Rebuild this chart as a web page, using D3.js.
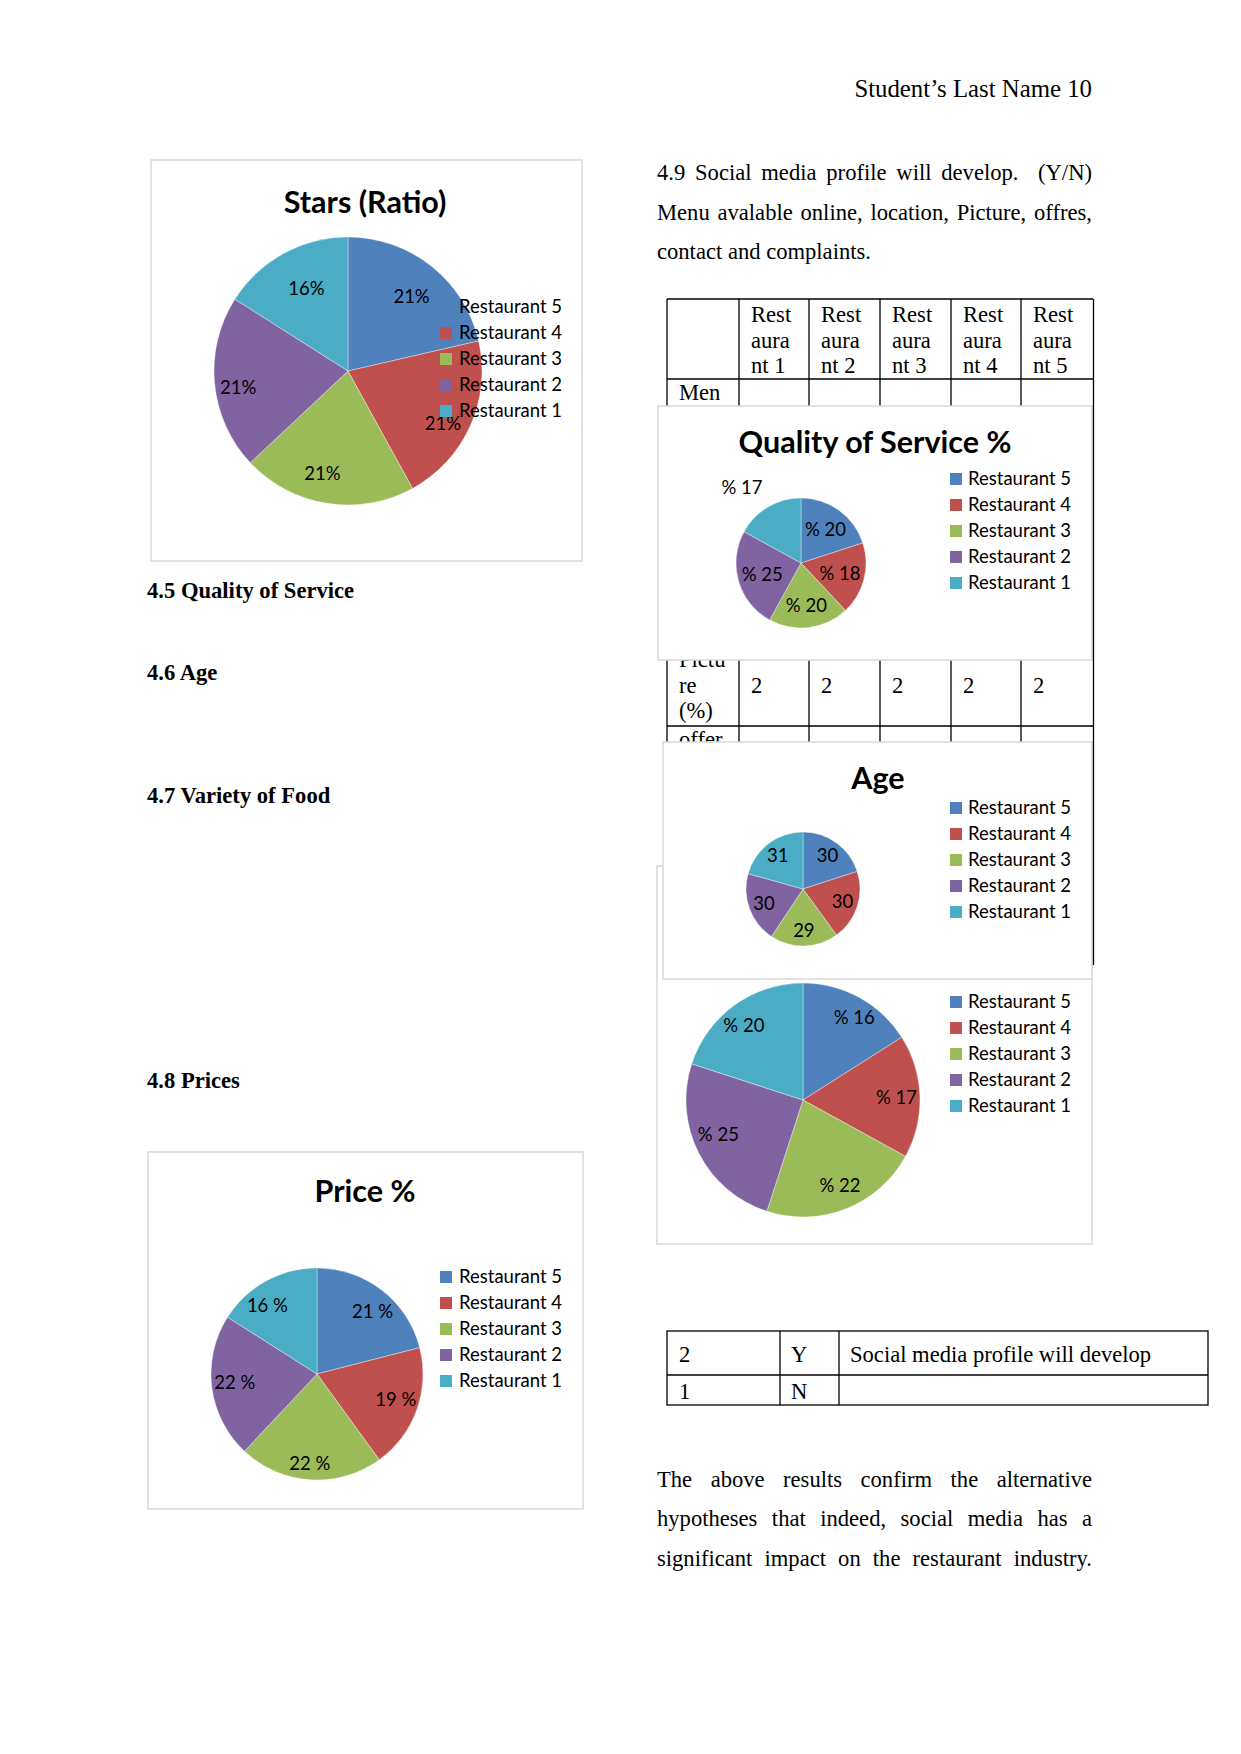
<!DOCTYPE html>
<html>
<head>
<meta charset="utf-8">
<script src="https://cdn.jsdelivr.net/npm/d3@7"></script>
<style>
  html, body { margin: 0; padding: 0; background: #fff; }
  svg text { fill: #000; }
</style>
</head>
<body>
<div id="page"></div>
<script>
// ---- data ----
const restaurants = ['Restaurant 5', 'Restaurant 4', 'Restaurant 3', 'Restaurant 2', 'Restaurant 1'];
const starsPct   = [21.4, 20.6, 21, 21, 16];   // slice angles as drawn, labels round to 21/21/21/21/16
const qualityPct = [20, 18, 20, 25, 17];
const agePct     = [30, 30, 29, 30, 31];
const varietyPct = [16, 17, 22, 25, 20];
const pricePct   = [21, 19, 22, 22, 16];
const sliceColors = ['#4F81BD', '#C0504D', '#9BBB59', '#8064A2', '#4BACC6'];

const tableHeaders = [['Rest', 'aura', 'nt 1'], ['Rest', 'aura', 'nt 2'], ['Rest', 'aura', 'nt 3'], ['Rest', 'aura', 'nt 4'], ['Rest', 'aura', 'nt 5']];
const pictureRow = [2, 2, 2, 2, 2];
const codeRows = [['2', 'Y', 'Social media profile will develop'], ['1', 'N', '']];

// ---- page setup ----
const W = 1241, H = 1754;
const serif = '"Liberation Serif", "Times New Roman", serif';
const sans = 'Lato, "Open Sans", sans-serif';
const bodySize = 22.6;
const chartFont = 18.5;

let svg = d3.select('#page').append('svg')
    .attr('width', W)
    .attr('height', H);

svg.append('rect').attr('width', W).attr('height', H).attr('fill', '#fff');

// spread words across a line like a justified paragraph
function justifyLine(g, line, x0, x1, y, opts) {
    let tokens = line.split(' ');
    let tmp = g.append('g');
    let widths = tokens.map(t => {
        let n = tmp.append('text').attr('font-family', opts.family).attr('font-size', opts.size).text(t);
        return t ? n.node().getComputedTextLength() : 0;
    });
    tmp.remove();
    let gaps = tokens.length - 1;
    let gap = gaps > 0 ? ((x1 - x0) - d3.sum(widths)) / gaps : 0;
    let x = x0;
    tokens.forEach((t, i) => {
        if (t) {
            g.append('text')
                .attr('x', x).attr('y', y)
                .attr('font-family', opts.family)
                .attr('font-size', opts.size)
                .text(t);
        }
        x += widths[i] + gap;
    });
}

let textLayer = svg.append('g');

// running header
textLayer.append('text')
    .attr('x', 1092).attr('y', 97)
    .attr('text-anchor', 'end')
    .attr('font-family', serif).attr('font-size', 24.8)
    .text('Student\u2019s Last Name 10');

// 4.9 paragraph
let bodyOpts = {family: serif, size: bodySize};
justifyLine(textLayer, '4.9 Social media profile will develop.  (Y/N)', 657, 1092, 180, bodyOpts);
justifyLine(textLayer, 'Menu avalable online, location, Picture, offres,', 657, 1092, 220, bodyOpts);
textLayer.append('text')
    .attr('x', 657).attr('y', 259)
    .attr('font-family', serif).attr('font-size', bodySize)
    .text('contact and complaints.');

// left headings
[['4.5 Quality of Service', 598], ['4.6 Age', 680], ['4.7 Variety of Food', 803], ['4.8 Prices', 1088]]
    .forEach(([t, y]) => {
        textLayer.append('text')
            .attr('x', 147).attr('y', y)
            .attr('font-family', serif).attr('font-size', bodySize)
            .attr('font-weight', 'bold')
            .text(t);
    });

// closing paragraph
justifyLine(textLayer, 'The above results confirm the alternative', 657, 1092, 1487, bodyOpts);
justifyLine(textLayer, 'hypotheses that indeed, social media has a', 657, 1092, 1526, bodyOpts);
justifyLine(textLayer, 'significant impact on the restaurant industry.', 657, 1092, 1566, bodyOpts);

// ---- big table (partly hidden by the charts) ----
let table = svg.append('g').attr('stroke', '#000').attr('stroke-width', 1.3);
let colX = [667, 739, 809, 880, 951, 1021, 1093];
let rowY = [299, 379, 726];

rowY.forEach(y => {
    table.append('line').attr('x1', colX[0]).attr('x2', colX[6]).attr('y1', y).attr('y2', y);
});
colX.slice(0, 6).forEach(x => {
    table.append('line').attr('x1', x).attr('x2', x).attr('y1', rowY[0]).attr('y2', 770);
});

let tableText = svg.append('g')
    .attr('font-family', serif).attr('font-size', bodySize);

tableHeaders.forEach((lines, i) => {
    lines.forEach((l, j) => {
        tableText.append('text')
            .attr('x', colX[i + 1] + 12).attr('y', 322 + j * 25.5)
            .text(l);
    });
});
tableText.append('text').attr('x', 679).attr('y', 400).text('Men');
['Pictu', 're', '(%)'].forEach((l, j) => {
    tableText.append('text').attr('x', 679).attr('y', 667 + j * 25.5).text(l);
});
pictureRow.forEach((v, i) => {
    tableText.append('text').attr('x', colX[i + 1] + 12).attr('y', 693).text(v);
});
tableText.append('text').attr('x', 679).attr('y', 747).text('offer');

// ---- small code table ----
let small = svg.append('g').attr('stroke', '#000').attr('stroke-width', 1.3).attr('fill', 'none');
small.append('rect').attr('x', 667).attr('y', 1331).attr('width', 1208 - 667).attr('height', 1405 - 1331);
small.append('line').attr('x1', 667).attr('x2', 1208).attr('y1', 1375).attr('y2', 1375);
[780, 839].forEach(x => small.append('line').attr('x1', x).attr('x2', x).attr('y1', 1331).attr('y2', 1405));

let smallX = [679, 791, 850];
codeRows.forEach((row, r) => {
    row.forEach((t, c) => {
        tableText.append('text')
            .attr('x', smallX[c]).attr('y', r === 0 ? 1362 : 1399)
            .text(t);
    });
});

// ---- pie charts ----
function drawPie(cfg) {
    let g = svg.append('g');
    g.append('rect')
        .attr('x', cfg.box[0]).attr('y', cfg.box[1])
        .attr('width', cfg.box[2] - cfg.box[0]).attr('height', cfg.box[3] - cfg.box[1])
        .attr('fill', '#fff')
        .attr('stroke', '#d9d9d9').attr('stroke-width', 1.5);

    if (cfg.title) {
        g.append('text')
            .attr('x', cfg.title[0]).attr('y', cfg.title[1])
            .attr('text-anchor', 'middle')
            .attr('font-family', sans).attr('font-weight', 'bold').attr('font-size', 30.5)
            .text(cfg.title[2]);
    }

    let data = restaurants.map((name, i) => ({name: name, v: cfg.values[i]}));
    let pie = d3.pie().sort(null).value(d => d.v);
    let arcs = pie(data);
    let color = d3.scaleOrdinal().domain(restaurants).range(sliceColors);
    let arc = d3.arc().innerRadius(0).outerRadius(cfg.r);

    let plot = g.append('g')
        .attr('transform', `translate(${cfg.cx},${cfg.cy})`);
    plot.selectAll('path')
        .data(arcs)
        .join('path')
            .attr('d', arc)
            .attr('fill', d => color(d.data.name))
            .attr('stroke', '#fff').attr('stroke-width', 0.6).attr('stroke-opacity', 0.6);

    // labels sit near each slice's centroid; small angle nudges follow the original layout
    plot.selectAll('text')
        .data(arcs)
        .join('text')
            .attr('transform', (d, i) => {
                let lr = cfg.r * cfg.labelR[i];
                let a = (d.startAngle + d.endAngle) / 2 + (cfg.labelA ? cfg.labelA[i] : 0) * Math.PI / 180;
                return `translate(${lr * Math.sin(a)},${-lr * Math.cos(a)})`;
            })
            .attr('text-anchor', 'middle')
            .attr('dy', '0.35em')
            .attr('font-family', sans).attr('font-size', chartFont)
            .text(d => cfg.fmt(d.data.v));

    let legend = g.append('g');
    restaurants.forEach((name, i) => {
        let y = cfg.legend[2] + i * 26;
        legend.append('rect')
            .attr('x', cfg.legend[0]).attr('y', y - 6)
            .attr('width', 12).attr('height', 12)
            .attr('fill', color(name));
        legend.append('text')
            .attr('x', cfg.legend[1]).attr('y', y)
            .attr('dy', '0.35em')
            .attr('font-family', sans).attr('font-size', chartFont)
            .text(name);
    });
}

const fill5 = v => [v, v, v, v, v];

drawPie({
    box: [151, 160, 582, 561], title: [365, 213, 'Stars (Ratio)'],
    cx: 348, cy: 371, r: 134,
    labelR: [0.73, 0.81, 0.79, 0.83, 0.69], labelA: [2, 5, 5, -3.4, 2],
    values: starsPct, fmt: v => Math.round(v) + '%', legend: [440, 459, 307]
});

drawPie({
    box: [658, 406, 1092, 660], title: [875, 453, 'Quality of Service %'],
    cx: 801, cy: 563, r: 65,
    labelR: [0.64, 0.62, 0.66, 0.62, 1.47], labelA: [0, 0, 0, 0, -7.6],
    values: qualityPct, fmt: v => '% ' + v, legend: [950, 968, 479]
});

drawPie({
    box: [657, 866, 1092, 1244], title: null,
    cx: 803, cy: 1100, r: 117,
    labelR: [0.83, 0.8, 0.8, 0.78, 0.81], labelA: [3, 0, -1.7, 5, -2.6],
    values: varietyPct, fmt: v => '% ' + v, legend: [950, 968, 1002]
});

drawPie({
    box: [663, 742, 1092, 979], title: [878, 789, 'Age'],
    cx: 803, cy: 889, r: 57, labelR: fill5(0.73),
    values: agePct, fmt: v => String(v), legend: [950, 968, 808]
});

drawPie({
    box: [148, 1152, 583, 1509], title: [365, 1202, 'Price %'],
    cx: 317, cy: 1374, r: 106,
    labelR: [0.79, 0.78, 0.85, 0.78, 0.8], labelA: [3.8, -2, 1, 1, -7],
    values: pricePct, fmt: v => v + ' %', legend: [440, 459, 1277]
});

// the table's right border shows beside the chart frames
svg.append('line')
    .attr('x1', 1093.5).attr('x2', 1093.5).attr('y1', 299).attr('y2', 965)
    .attr('stroke', '#000').attr('stroke-width', 1.3);
</script>
</body>
</html>
